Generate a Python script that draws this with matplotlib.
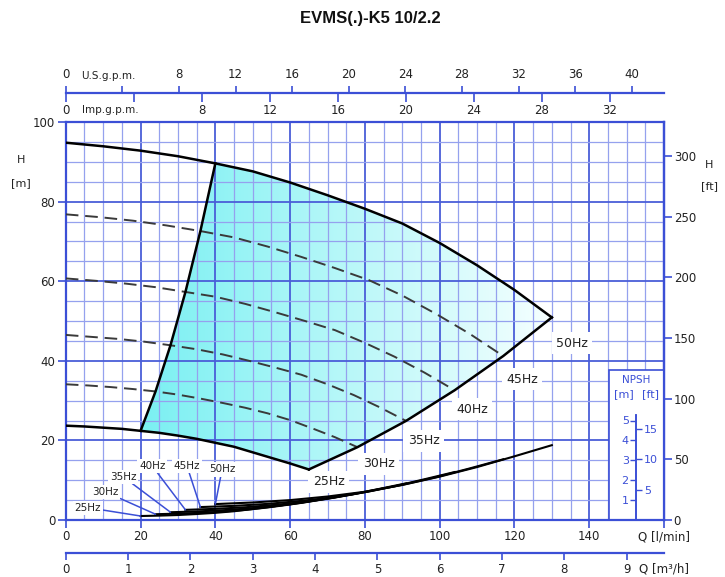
import matplotlib

matplotlib.use("Agg")
import matplotlib.pyplot as plt
import numpy as np
from matplotlib.colors import LinearSegmentedColormap
from matplotlib.patches import Polygon, Rectangle
from matplotlib.ticker import MultipleLocator

# ---- data (Q in l/min, H in m, NPSH in m) ----
FREQS = ["25Hz", "30Hz", "35Hz", "40Hz", "45Hz", "50Hz"]

Q_25 = [0, 5, 10, 15, 20, 25, 30, 35, 40, 45, 50, 55, 60, 65]
H_25 = [23.7, 23.5, 23.2, 22.9, 22.4, 21.9, 21.2, 20.4, 19.4, 18.4, 17.0, 15.6, 14.2, 12.7]
Q_30 = [0, 6, 12, 18, 24, 30, 36, 42, 48, 54, 60, 66, 72, 78]
H_30 = [34.1, 33.8, 33.4, 32.9, 32.3, 31.5, 30.5, 29.4, 28.2, 26.8, 25.1, 23.0, 20.8, 18.3]
Q_35 = [0, 7, 14, 21, 28, 35, 42, 49, 56, 63, 70, 77, 84, 91]
H_35 = [46.5, 46.0, 45.5, 44.8, 43.9, 42.9, 41.6, 40.0, 38.3, 36.5, 34.1, 31.4, 28.3, 24.9]
Q_40 = [0, 8, 16, 24, 32, 40, 48, 56, 64, 72, 80, 88, 96, 104]
H_40 = [60.7, 60.1, 59.4, 58.5, 57.3, 56.1, 54.3, 52.2, 50.0, 47.7, 44.5, 41.0, 37.0, 32.6]
Q_45 = [0, 9, 18, 27, 36, 45, 54, 63, 72, 81, 90, 99, 108, 117]
H_45 = [76.8, 76.1, 75.2, 74.0, 72.6, 71.0, 68.7, 66.1, 63.3, 60.3, 56.4, 51.8, 46.8, 41.2]
Q_50 = [0, 10, 20, 30, 40, 50, 60, 70, 80, 90, 100, 110, 120, 130]
H_50 = [94.8, 93.9, 92.8, 91.4, 89.6, 87.6, 84.8, 81.6, 78.2, 74.5, 69.6, 64.0, 57.8, 50.9]

# operating limits (one point per frequency, 25Hz -> 50Hz)
MIN_Q = [20, 24, 28, 32, 36, 40]
MIN_H = [22.4, 32.3, 43.9, 57.3, 72.6, 89.6]
MAX_Q = [65, 78, 91, 104, 117, 130]
MAX_H = [12.7, 18.3, 24.9, 32.6, 41.2, 50.9]

# NPSH curves
NQ_25 = [20, 25, 30, 35, 40, 45, 50, 55, 60, 65]
NPSH_25 = [0.20, 0.22, 0.25, 0.30, 0.36, 0.44, 0.55, 0.67, 0.80, 0.94]
NQ_30 = [24, 30, 36, 42, 48, 54, 60, 66, 72, 78]
NPSH_30 = [0.29, 0.32, 0.36, 0.42, 0.51, 0.63, 0.78, 0.96, 1.15, 1.35]
NQ_35 = [28, 35, 42, 49, 56, 63, 70, 77, 84, 91]
NPSH_35 = [0.39, 0.43, 0.49, 0.58, 0.70, 0.86, 1.07, 1.30, 1.57, 1.84]
NQ_40 = [32, 40, 48, 56, 64, 72, 80, 88, 96, 104]
NPSH_40 = [0.51, 0.56, 0.64, 0.76, 0.91, 1.13, 1.40, 1.70, 2.05, 2.41]
NQ_45 = [36, 45, 54, 63, 72, 81, 90, 99, 108, 117]
NPSH_45 = [0.65, 0.71, 0.81, 0.96, 1.15, 1.43, 1.77, 2.15, 2.59, 3.05]
NQ_50 = [40, 50, 60, 70, 80, 90, 100, 110, 120, 130]
NPSH_50 = [0.80, 0.88, 1.00, 1.18, 1.42, 1.76, 2.18, 2.66, 3.20, 3.76]

HEAD = {"25Hz": (Q_25, H_25), "30Hz": (Q_30, H_30), "35Hz": (Q_35, H_35),
        "40Hz": (Q_40, H_40), "45Hz": (Q_45, H_45), "50Hz": (Q_50, H_50)}
NPSH = {"25Hz": (NQ_25, NPSH_25), "30Hz": (NQ_30, NPSH_30), "35Hz": (NQ_35, NPSH_35),
        "40Hz": (NQ_40, NPSH_40), "45Hz": (NQ_45, NPSH_45), "50Hz": (NQ_50, NPSH_50)}

# label placement (Q, H) and (Q, NPSH)
HEAD_LABEL_POS = {"25Hz": (70.3, 9.6), "30Hz": (83.7, 14.1), "35Hz": (95.7, 19.9),
                  "40Hz": (108.7, 27.8), "45Hz": (122.0, 35.4), "50Hz": (135.4, 44.4)}
NPSH_LABEL_POS = {"25Hz": (5.9, 0.62), "30Hz": (10.5, 1.42), "35Hz": (15.3, 2.18),
                  "40Hz": (23.1, 2.72), "45Hz": (32.4, 2.72), "50Hz": (41.8, 2.54)}

LPM_PER_USGPM = 3.785
LPM_PER_IMPGPM = 4.546
LPM_PER_M3H = 1000 / 60
M_PER_FT = 0.3048
NPSH_TO_H = 5.0  # NPSH scale inside the box: 1 m NPSH = 5 m on the H axis

BLUE = "#3b4fd6"
GRID_MAJ = "#4a5ed8"
GRID_MIN = "#95a1ee"
TXT = "#222222"

W_PX, H_PX = 725, 577
fig = plt.figure(figsize=(W_PX / 100, H_PX / 100), dpi=100)
L, B = 65.8 / W_PX, 1 - 520 / H_PX
W, HT = (664 - 65.8) / W_PX, (520 - 122) / H_PX
ax = fig.add_axes([L, B, W, HT])

# gradient fill of the operating area
mask50 = np.array(Q_50) >= MIN_Q[-1]
mask25 = np.array(Q_25) >= MIN_Q[0]
verts = (list(zip(np.array(Q_50)[mask50], np.array(H_50)[mask50]))
         + list(zip(MAX_Q[::-1], MAX_H[::-1]))
         + list(zip(np.array(Q_25)[mask25][::-1], np.array(H_25)[mask25][::-1]))
         + list(zip(MIN_Q, MIN_H)))
poly = Polygon(verts, closed=True, facecolor="none", edgecolor="none")
ax.add_patch(poly)
cmap = LinearSegmentedColormap.from_list("fill", ["#7af0f2", "#f6ffff"])
im = ax.imshow(np.linspace(0, 1, 256).reshape(1, -1), extent=[MIN_Q[0], MAX_Q[-1], 0, 100],
               aspect="auto", cmap=cmap, origin="lower", zorder=1)
im.set_clip_path(poly)

# head curves
for f in FREQS:
    q, h = HEAD[f]
    if f in ("25Hz", "50Hz"):
        ax.plot(q, h, color="black", lw=1.8, zorder=4)
    else:
        ax.plot(q, h, color="#3a3a3a", lw=1.4, dashes=(6.5, 3.5), zorder=4)
ax.plot(MIN_Q, MIN_H, color="black", lw=1.8, zorder=4)
ax.plot(MAX_Q, MAX_H, color="black", lw=1.8, zorder=4)
for f, (x, y) in HEAD_LABEL_POS.items():
    ax.text(x, y, f, ha="center", va="center", fontsize=9, color=TXT, zorder=6,
            bbox=dict(boxstyle="square,pad=0.35", fc="white", ec="none"))

# NPSH box
ax.add_patch(Rectangle((145.2, 0), 14.8, 37.7, facecolor="white", edgecolor=BLUE,
                       lw=1.2, zorder=1.6))
ax.text(152.6, 35.2, "NPSH", ha="center", va="center", fontsize=7.5, color=BLUE, zorder=5)
ax.text(149.2, 31.7, "[m]", ha="center", va="center", fontsize=8, color=BLUE, zorder=5)
ax.text(156.4, 31.7, "[ft]", ha="center", va="center", fontsize=8, color=BLUE, zorder=5)

ax.set_xlim(0, 160)
ax.set_ylim(0, 100)
ax.xaxis.set_major_locator(MultipleLocator(20))
ax.xaxis.set_minor_locator(MultipleLocator(5))
ax.yaxis.set_major_locator(MultipleLocator(20))
ax.yaxis.set_minor_locator(MultipleLocator(5))
ax.set_axisbelow("line")
ax.grid(which="major", color=GRID_MAJ, lw=1.3)
ax.grid(which="minor", color=GRID_MIN, lw=0.9)
xt = list(range(0, 161, 20))
ax.set_xticks(xt)
ax.set_xticklabels([str(v) for v in xt[:-1]] + ["Q [l/min]"])
ax.tick_params(which="major", length=6, width=1.2, color=BLUE, labelcolor=TXT,
               labelsize=8.5, pad=1.5)
ax.tick_params(which="minor", length=0)
for s in ax.spines.values():
    s.set_color(BLUE)
    s.set_linewidth(1.6)

# right axis in feet
axft = ax.secondary_yaxis("right", functions=(lambda m: m / M_PER_FT, lambda ft: ft * M_PER_FT))
axft.set_yticks(range(0, 301, 50))
axft.spines["right"].set_color(BLUE)
axft.spines["right"].set_linewidth(1.6)
axft.tick_params(length=6, width=1.2, color=BLUE, labelcolor=TXT, labelsize=8.5, pad=1)

# NPSH curves on their own scale
axn = ax.twinx()
axn.set_ylim(0, 100 / NPSH_TO_H)
for s in ("top", "bottom", "right"):
    axn.spines[s].set_visible(False)
axn.spines["left"].set_position(("data", 152.6))
axn.spines["left"].set_bounds(0, 5.3)
axn.spines["left"].set_color(BLUE)
axn.spines["left"].set_linewidth(1.2)
axn.yaxis.set_ticks_position("left")
axn.set_yticks([1, 2, 3, 4, 5])
axn.tick_params(axis="y", length=4.5, width=1, color=BLUE, labelcolor=BLUE, labelsize=8, pad=1)
for f in FREQS:
    q, n = NPSH[f]
    axn.plot(q, n, color="black", lw=1.5, zorder=4)
    tx, ty = NPSH_LABEL_POS[f]
    axn.annotate(f, xy=(q[0], n[0]), xytext=(tx, ty), ha="center", va="center",
                 fontsize=7.5, color=TXT, zorder=6,
                 bbox=dict(boxstyle="square,pad=0.2", fc="white", ec="none"),
                 arrowprops=dict(arrowstyle="-", color=BLUE, lw=1.1, shrinkA=0, shrinkB=0))

axnf = ax.twinx()
axnf.set_ylim(0, 100 / NPSH_TO_H / M_PER_FT)
for s in ("top", "bottom", "left"):
    axnf.spines[s].set_visible(False)
axnf.spines["right"].set_position(("data", 152.6))
axnf.spines["right"].set_bounds(0, 5.3 / M_PER_FT)
axnf.spines["right"].set_color(BLUE)
axnf.spines["right"].set_linewidth(1.2)
axnf.yaxis.set_ticks_position("right")
axnf.set_yticks([5, 10, 15])
axnf.tick_params(axis="y", length=4.5, width=1, color=BLUE, labelcolor=BLUE, labelsize=8, pad=1)


def scale_axis(ypix, xmax):
    a = fig.add_axes([L, 1 - ypix / H_PX, W, 1e-9])
    a.set_xlim(0, xmax)
    a.patch.set_visible(False)
    a.yaxis.set_visible(False)
    for s in a.spines.values():
        s.set_visible(False)
    return a


# top flow scales
us = scale_axis(93, 160 / LPM_PER_USGPM)
us.xaxis.set_ticks_position("top")
us.spines["top"].set_visible(True)
us.spines["top"].set_color(BLUE)
us.spines["top"].set_linewidth(1.6)
us_t = list(range(0, 41, 4))
us.set_xticks(us_t)
us.set_xticklabels(["" if v == 4 else str(v) for v in us_t])
us.tick_params(length=5, width=1.2, color=BLUE, labelcolor=TXT, labelsize=8.5, pad=3.5)
us.annotate("U.S.g.p.m.", xy=(1.1, 1), xycoords=("data", "axes fraction"), xytext=(0, 8.5),
            textcoords="offset points", ha="left", va="bottom", fontsize=7.5, color=TXT)

imp = scale_axis(93, 160 / LPM_PER_IMPGPM)
imp.xaxis.set_ticks_position("bottom")
imp_t = list(range(0, 33, 4))
imp.set_xticks(imp_t)
imp.set_xticklabels(["" if v == 4 else str(v) for v in imp_t])
imp.tick_params(length=6.5, width=1.2, color=BLUE, labelcolor=TXT, labelsize=8.5, pad=1.5)
imp.annotate("Imp.g.p.m.", xy=(0.95, 0), xycoords=("data", "axes fraction"), xytext=(0, -8.5),
             textcoords="offset points", ha="left", va="top", fontsize=7.5, color=TXT)

# bottom m3/h scale
m3 = scale_axis(553, 160 / LPM_PER_M3H)
m3.xaxis.set_ticks_position("bottom")
m3.spines["bottom"].set_visible(True)
m3.spines["bottom"].set_color(BLUE)
m3.spines["bottom"].set_linewidth(1.6)
m3.set_xticks(range(0, 10))
m3.tick_params(length=5, width=1.2, color=BLUE, labelcolor=TXT, labelsize=8.5, pad=2)
m3.annotate("Q [m³/h]", xy=(160 / LPM_PER_M3H, 0), xycoords=("data", "axes fraction"),
            xytext=(0, -6.5), textcoords="offset points", ha="center", va="top",
            fontsize=8.5, color=TXT, annotation_clip=False)

# axis captions and title
fig.text(21 / W_PX, 1 - 160 / H_PX, "H", ha="center", va="center", fontsize=8, color=TXT)
fig.text(21 / W_PX, 1 - 183 / H_PX, "[m]", ha="center", va="center", fontsize=8, color=TXT)
fig.text(709 / W_PX, 1 - 165 / H_PX, "H", ha="center", va="center", fontsize=8, color=TXT)
fig.text(709 / W_PX, 1 - 186 / H_PX, "[ft]", ha="center", va="center", fontsize=8, color=TXT)
fig.text(370 / W_PX, 1 - 19 / H_PX, "EVMS(.)-K5 10/2.2", ha="center", va="center",
         fontsize=12, fontweight="bold", family="Liberation Sans", color="#111111")

fig.savefig("out.png", dpi=100)
